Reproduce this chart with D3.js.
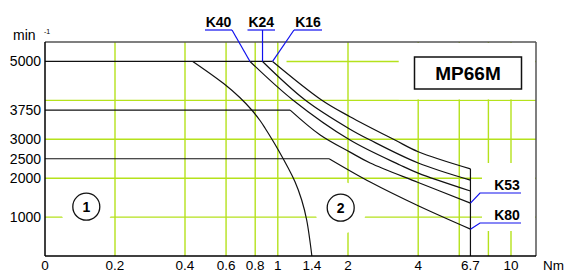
<!DOCTYPE html>
<html><head><meta charset="utf-8">
<script src="https://cdn.jsdelivr.net/npm/d3@7"></script>
<style>body{margin:0;background:#fff}svg{display:block}text{font-family:"Liberation Sans",Arial,sans-serif}</style>
</head><body><svg id="c" width="565" height="273"></svg>
<script>
// ---- data ----
const torqueTicks = [0, 0.2, 0.4, 0.6, 0.8, 1, 1.4, 2, 4, 6.7, 10];
const speedTicks = [1000, 2000, 2500, 3000, 3750, 5000];
const gridTorque = [0.2, 0.4, 0.6, 0.8, 1, 2, 4, 6, 8, 10];
const gridSpeed = [1000, 2000, 3000, 4000, 5000];
const region1 = [[0.432,5000],[0.584,4438],[0.689,4066],[0.773,3752],[0.839,3482],[0.881,3290],[1.005,2724],[1.185,1910],[1.266,1439],[1.33,925],[1.4,0]];
const k16 = [[0.95,5000],[1.54,4010],[2.04,3580],[3.18,2980],[4,2680],[6.7,2240]];
const k24 = [[0.86,5000],[1.31,4010],[2.04,3260],[2.49,2980],[4,2390],[6.7,1950]];
const k40 = [[0.76,5000],[1.16,4010],[2.04,2980],[3.34,2340],[4,2130],[6.7,1670]];
const k53 = [[1.13,3750],[1.52,3110],[2.04,2670],[2.49,2390],[4,1890],[6.7,1360]];
const k80 = [[1.66,2500],[2.49,1900],[4,1290],[6.7,690]];
const title = "MP66M";

// ---- layout ----
const L = 45, R = 536, T = 42, B = 256;
const GREEN = "#b5e21c", BLUE = "#1010ee";
const svg = d3.select("#c");
const xLin = d3.scaleLinear().domain([0, 0.4]).range([L, 185]);
const xLog = d3.scaleLog().domain([0.4, 10]).range([185, 511]);
const x = v => v <= 0.4 ? xLin(v) : xLog(v);
const y = d3.scaleLinear().domain([0, 5500]).range([B, T]);

// grid
const g = svg.append("g").attr("stroke", GREEN).attr("stroke-width", 1.4);
gridTorque.forEach(t => g.append("line").attr("x1", x(t)).attr("x2", x(t)).attr("y1", T).attr("y2", B));
gridSpeed.forEach(s => g.append("line")
  .attr("x1", s === 5000 ? x(1.09) : L).attr("x2", R)
  .attr("y1", y(s)).attr("y2", y(s)));

// white masks
const m = svg.append("g").attr("fill", "#fff");
m.append("rect").attr("x", x(3.3)).attr("y", T + 1).attr("width", R - x(3.3) - 1).attr("height", y(4000) - T - 2);
m.append("rect").attr("x", 482).attr("y", 163).attr("width", R - 483).attr("height", 68);
const circles = [{t: "1", cx: 86.3, cy: 206.7}, {t: "2", cx: 340.7, cy: 207.7}];
circles.forEach(c => m.append("circle").attr("cx", c.cx).attr("cy", c.cy).attr("r", 26));

// curves
const line = d3.line().x(d => x(d[0])).y(d => y(d[1])).curve(d3.curveCatmullRom.alpha(0.5));
const cg = svg.append("g").attr("fill", "none").attr("stroke", "#111").attr("stroke-width", 1.2);
[region1, k16, k24, k40, k53, k80].forEach(c => cg.append("path").attr("d", line(c)));
// flat segments
[k16, k53, k80].forEach(c => cg.append("line")
  .attr("x1", L).attr("x2", x(c[0][0])).attr("y1", y(c[0][1])).attr("y2", y(c[0][1])));
// end vertical at 6.7
cg.append("line").attr("x1", x(6.7)).attr("x2", x(6.7)).attr("y1", y(k16[k16.length-1][1])).attr("y2", B);

// borders
svg.append("line").attr("x1", L).attr("x2", R).attr("y1", T).attr("y2", T).attr("stroke", "#555").attr("stroke-width", 1.5);
svg.append("line").attr("x1", R).attr("x2", R).attr("y1", T).attr("y2", B).attr("stroke", "#555").attr("stroke-width", 1.5);
svg.append("line").attr("x1", L).attr("x2", L).attr("y1", T).attr("y2", B).attr("stroke", "#000").attr("stroke-width", 1.5);
svg.append("line").attr("x1", L).attr("x2", R).attr("y1", B).attr("y2", B).attr("stroke", "#000").attr("stroke-width", 1.5);

// title box
svg.append("rect").attr("x", 414.5).attr("y", 57).attr("width", 107).attr("height", 32)
  .attr("fill", "#fff").attr("stroke", "#111").attr("stroke-width", 1.5);
svg.append("text").attr("x", 468).attr("y", 80).attr("text-anchor", "middle")
  .attr("font-size", 19).attr("font-weight", "bold").text(title);

// axis labels
speedTicks.forEach(s => svg.append("text").attr("x", 41).attr("y", y(s) + 5)
  .attr("text-anchor", "end").attr("font-size", 14).text(s));
torqueTicks.forEach(t => svg.append("text").attr("x", x(t)).attr("y", 270)
  .attr("text-anchor", "middle").attr("font-size", 13.5).text(t));
svg.append("text").attr("x", 543).attr("y", 270).attr("font-size", 13.5).text("Nm");
svg.append("text").attr("x", 13).attr("y", 40).attr("font-size", 14).text("min");
svg.append("text").attr("x", 44).attr("y", 34).attr("font-size", 7).text("-1");

// region circles
circles.forEach(c => {
  svg.append("circle").attr("cx", c.cx).attr("cy", c.cy).attr("r", 13.5).attr("fill", "#fff").attr("stroke", "#111").attr("stroke-width", 1.3);
  svg.append("text").attr("x", c.cx).attr("y", c.cy + 5).attr("text-anchor", "middle")
    .attr("font-size", 14).attr("font-weight", "bold").text(c.t);
});

// curve labels with leaders
const lab = svg.append("g");
const topLabels = [
  {name: "K40", c: k40, x0: 205, x1: 232},
  {name: "K24", c: k24, x0: 247.5, x1: 275, vert: true},
  {name: "K16", c: k16, x0: 294, x1: 322, left: true}
];
topLabels.forEach(o => {
  const px = x(o.c[0][0]), py = y(o.c[0][1]);
  lab.append("text").attr("x", (o.x0 + o.x1) / 2).attr("y", 27).attr("text-anchor", "middle")
    .attr("font-size", 14).attr("font-weight", "bold").text(o.name);
  const jx = o.vert ? px : (o.left ? o.x0 : o.x1);
  lab.append("line").attr("x1", o.x0).attr("x2", o.x1).attr("y1", 30).attr("y2", 30).attr("stroke", BLUE).attr("stroke-width", 1.2);
  lab.append("line").attr("x1", jx).attr("y1", 30).attr("x2", px).attr("y2", py).attr("stroke", BLUE).attr("stroke-width", 1.2);
});
const rightLabels = [{name: "K53", c: k53, ty: 190}, {name: "K80", c: k80, ty: 220}];
rightLabels.forEach(o => {
  const end = o.c[o.c.length - 1];
  const px = x(end[0]), py = y(end[1]);
  lab.append("text").attr("x", 507).attr("y", o.ty).attr("text-anchor", "middle")
    .attr("font-size", 14).attr("font-weight", "bold").text(o.name);
  lab.append("polyline").attr("fill", "none").attr("stroke", BLUE).attr("stroke-width", 1.2)
    .attr("points", `${px},${py} ${480},${o.ty + 3} ${521},${o.ty + 3}`);
});
</script></body></html>
